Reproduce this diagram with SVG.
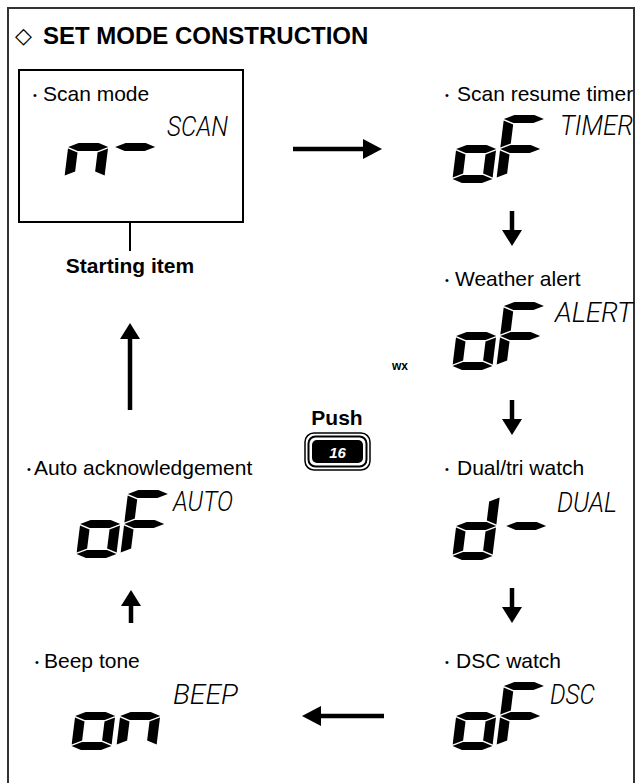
<svg xmlns="http://www.w3.org/2000/svg" width="641" height="783" viewBox="0 0 641 783">
  <style>
    .title { font-family: "Liberation Sans", Arial, sans-serif; font-weight: bold; font-size: 24px; fill: #000; }
    .lbl { font-family: "Liberation Sans", Arial, sans-serif; font-size: 21px; fill: #000; }
    .bul { font-size: 11px; }
    .bold { font-family: "Liberation Sans", Arial, sans-serif; font-weight: bold; fill: #000; }
    .lcd { font-family: Roboto, "DejaVu Sans", sans-serif; font-weight: 300; font-style: italic; font-size: 28px; fill: #000; }
    .seg { fill: #000; }
    .frame { fill: none; stroke: #333; stroke-width: 2; }
    .conn { fill: none; stroke: #000; stroke-width: 4.5; }
    .head { fill: #000; }
  </style>
  <defs>
    <!-- seven-segment pieces, origin at bottom-left of the cell -->
    <polygon id="sa" class="seg" points="0,-64 10,-68 30,-68 40,-64 30,-60 10,-60"/>
    <polygon id="sg" class="seg" points="0,-34 10,-38 30,-38 40,-34 30,-30 10,-30"/>
    <polygon id="sd" class="seg" points="0,-4 10,-8 30,-8 40,-4 30,0 10,0"/>
    <polygon id="sf" class="seg" points="0,-62.5 10,-58.5 10,-39.5 0,-35.5"/>
    <polygon id="se" class="seg" points="0,-32.5 10,-28.5 10,-9.5 0,-5.5"/>
    <polygon id="sb" class="seg" points="40,-62.5 30,-58.5 30,-39.5 40,-35.5"/>
    <polygon id="sc" class="seg" points="40,-32.5 30,-28.5 30,-9.5 40,-5.5"/>
    <g id="dig-o"><use href="#sg"/><use href="#se"/><use href="#sc"/><use href="#sd"/></g>
    <g id="dig-F"><use href="#sa"/><use href="#sf"/><use href="#sg"/><use href="#se"/></g>
    <g id="dig-n"><use href="#sg"/><use href="#se"/><use href="#sc"/></g>
    <g id="dig-d"><use href="#sb"/><use href="#sc"/><use href="#sd"/><use href="#se"/><use href="#sg"/></g>
    <g id="dig-oF"><use href="#dig-o"/><use href="#dig-F" x="44"/></g>
  </defs>

  <rect width="641" height="783" fill="#fff"/>
  <rect class="frame" x="8" y="8" width="626" height="800"/>

  <text class="title" y="44"><tspan x="15" y="43" font-family="DejaVu Sans, sans-serif" font-weight="normal" font-size="22">◇</tspan><tspan x="43" y="44">SET MODE CONSTRUCTION</tspan></text>

  <g id="scan-mode">
    <rect x="19" y="70" width="224" height="152" fill="none" stroke="#000" stroke-width="2"/>
    <line x1="130" y1="222" x2="130" y2="251" stroke="#000" stroke-width="2"/>
    <text class="lbl"><tspan class="bul" x="33" y="99">•</tspan><tspan x="43" y="101">Scan mode</tspan></text>
    <text class="lcd" x="167" y="136" textLength="61" lengthAdjust="spacingAndGlyphs">SCAN</text>
    <g transform="translate(64,181) skewX(-7)"><use href="#dig-n"/><use href="#sg" x="47"/></g>
    <text class="bold" x="130" y="273" font-size="21" text-anchor="middle">Starting item</text>
  </g>

  <g id="scan-resume-timer">
    <text class="lbl"><tspan class="bul" x="445" y="99">•</tspan><tspan x="457" y="101">Scan resume timer</tspan></text>
    <text class="lcd" x="560" y="135" textLength="73" lengthAdjust="spacingAndGlyphs">TIMER</text>
    <g transform="translate(452,183) skewX(-7)"><use href="#dig-oF"/></g>
  </g>

  <g id="weather-alert">
    <text class="lbl"><tspan class="bul" x="445" y="284">•</tspan><tspan x="455" y="286">Weather alert</tspan></text>
    <text class="lcd" x="555" y="322" textLength="78" lengthAdjust="spacingAndGlyphs">ALERT</text>
    <g transform="translate(452,370) skewX(-7)"><use href="#dig-oF"/></g>
    <text class="bold" x="392" y="370" font-size="12">wx</text>
  </g>

  <g id="push-key">
    <text class="bold" x="337" y="425" font-size="21" text-anchor="middle">Push</text>
    <rect x="305" y="433" width="65" height="37" rx="9" fill="none" stroke="#000" stroke-width="1.5"/>
    <rect x="308.5" y="436.5" width="58" height="30" rx="7" fill="none" stroke="#000" stroke-width="2"/>
    <rect x="312" y="440" width="51" height="23" rx="5" fill="#000"/>
    <text x="337.5" y="457.5" font-family="Liberation Sans, Arial, sans-serif" font-weight="bold" font-style="italic" font-size="15" fill="#fff" text-anchor="middle">16</text>
  </g>

  <g id="dual-tri-watch">
    <text class="lbl"><tspan class="bul" x="445" y="473">•</tspan><tspan x="457" y="475">Dual/tri watch</tspan></text>
    <text class="lcd" x="557" y="512" textLength="60" lengthAdjust="spacingAndGlyphs">DUAL</text>
    <g transform="translate(452,560) skewX(-7)"><use href="#dig-d"/><use href="#sg" x="50"/></g>
  </g>

  <g id="dsc-watch">
    <text class="lbl"><tspan class="bul" x="445" y="666">•</tspan><tspan x="456" y="668">DSC watch</tspan></text>
    <text class="lcd" x="550" y="704" textLength="45" lengthAdjust="spacingAndGlyphs">DSC</text>
    <g transform="translate(452,750) skewX(-7)"><use href="#dig-oF"/></g>
  </g>

  <g id="beep-tone">
    <text class="lbl"><tspan class="bul" x="35" y="666">•</tspan><tspan x="44" y="668">Beep tone</tspan></text>
    <text class="lcd" x="173" y="704" textLength="65" lengthAdjust="spacingAndGlyphs">BEEP</text>
    <g transform="translate(71,750) skewX(-7)"><use href="#dig-o"/><use href="#dig-n" x="45"/></g>
  </g>

  <g id="auto-acknowledgement">
    <text class="lbl"><tspan class="bul" x="27" y="473">•</tspan><tspan x="34" y="475">Auto acknowledgement</tspan></text>
    <text class="lcd" x="173" y="511" textLength="60" lengthAdjust="spacingAndGlyphs">AUTO</text>
    <g transform="translate(76,558) skewX(-7)"><use href="#dig-oF"/></g>
  </g>

  <g id="connectors">
    <!-- scan mode -> scan resume timer -->
    <line class="conn" x1="293" y1="149" x2="366" y2="149"/>
    <polygon class="head" points="363,139 382,149 363,159"/>
    <!-- scan resume timer -> weather alert -->
    <line class="conn" x1="512" y1="211" x2="512" y2="233"/>
    <polygon class="head" points="502,230 512,246 522,230"/>
    <!-- weather alert -> dual/tri watch -->
    <line class="conn" x1="512" y1="400" x2="512" y2="422"/>
    <polygon class="head" points="502,419 512,435 522,419"/>
    <!-- dual/tri watch -> DSC watch -->
    <line class="conn" x1="512" y1="588" x2="512" y2="610"/>
    <polygon class="head" points="502,607 512,623 522,607"/>
    <!-- DSC watch -> beep tone -->
    <line class="conn" x1="384" y1="716" x2="318" y2="716"/>
    <polygon class="head" points="321,706 302,716 321,726"/>
    <!-- beep tone -> auto acknowledgement -->
    <line class="conn" x1="131" y1="623" x2="131" y2="603"/>
    <polygon class="head" points="121,606 131,590 141,606"/>
    <!-- auto acknowledgement -> scan mode -->
    <line class="conn" x1="130" y1="410" x2="130" y2="336"/>
    <polygon class="head" points="120,339 130,323 140,339"/>
  </g>
</svg>
